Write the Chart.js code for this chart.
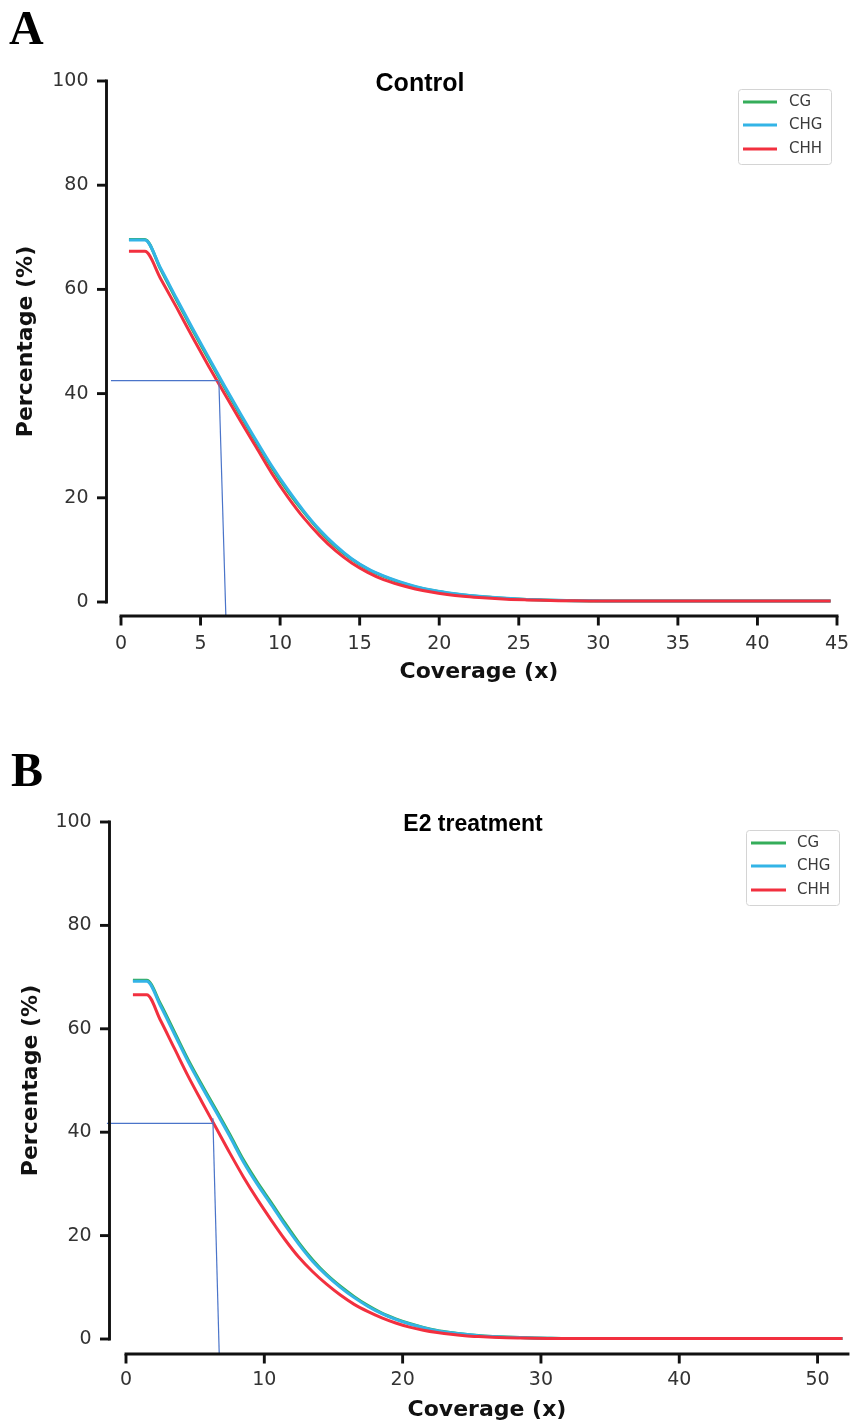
<!DOCTYPE html>
<html><head><meta charset="utf-8">
<script src="https://cdn.jsdelivr.net/npm/chart.js@4.4.1/dist/chart.umd.min.js"></script>
<style>
html,body{margin:0;padding:0;background:#fff;}
#wrap{position:relative;width:856px;height:1425px;overflow:hidden;}
canvas{position:absolute;left:0;}
#cA{top:0px;} #cB{top:712px;}
</style></head><body>
<div id="wrap"><canvas id="cA" width="856" height="712"></canvas><canvas id="cB" width="856" height="713"></canvas></div>
<script>
// ---------- DATA ----------
const seriesNames = ['CG', 'CHG', 'CHH'];
const panelTitles = ['Control', 'E2 treatment'];
const panelLetters = ['A', 'B'];
const yTicks = [0, 20, 40, 60, 80, 100];
const xTicksA = [0, 5, 10, 15, 20, 25, 30, 35, 40, 45];
const xTicksB = [0, 10, 20, 30, 40, 50];
const xSpineA = [0, 45];
const xSpineB = [0, 52.2];

// Panel A (Control)
const coverageA = [0.5,1.5,2.5,3.5,4.5,5.5,6.5,7.5,8.5,9.5,10.5,11.5,12.5,13.5,14.5,15.5,16.5,17.5,18.5,19.5,20.5,21.5,22.5,23.5,24.5,25.5,26.5,27.5,28.5,29.5,30.5,31.5,32.5,33.5,34.5,35.5,36.5,37.5,38.5,39.5,40.5,41.5,42.5,43.5,44.6];
const cgA  = [69.6,69.6,63.8,57.9,52.2,46.7,41.2,35.9,30.7,25.7,21.2,17.2,13.6,10.6,8.2,6.3,4.9,3.8,2.9,2.25,1.75,1.35,1.05,0.82,0.63,0.49,0.39,0.31,0.25,0.21,0.2,0.2,0.2,0.2,0.2,0.2,0.2,0.2,0.2,0.2,0.2,0.2,0.2,0.2,0.2];
const chgA = [69.5,69.5,64.0,58.2,52.5,47.0,41.5,36.2,31.0,26.0,21.5,17.4,13.8,10.8,8.3,6.4,5.0,3.9,3.0,2.3,1.8,1.4,1.1,0.85,0.65,0.5,0.4,0.32,0.26,0.22,0.2,0.2,0.2,0.2,0.2,0.2,0.2,0.2,0.2,0.2,0.2,0.2,0.2,0.2,0.2];
const chhA = [67.3,67.3,62.0,56.5,50.8,45.3,40.0,34.8,29.7,24.6,20.1,16.1,12.7,9.8,7.5,5.7,4.3,3.3,2.5,1.9,1.45,1.1,0.85,0.65,0.5,0.4,0.32,0.26,0.22,0.2,0.2,0.2,0.2,0.2,0.2,0.2,0.2,0.2,0.2,0.2,0.2,0.2,0.2,0.2,0.2];
// hand-drawn guide lines (panel A)
const guideA_hx = [-0.63, 6.12], guideA_hy = [42.5, 42.5];
const guideA_vx = [6.15, 6.59],  guideA_vy = [42.5, -2.7];

// Panel B (E2 treatment)
const coverageB = [0.5,1.5,2.5,3.5,4.5,5.5,6.5,7.5,8.5,9.5,10.5,11.5,12.5,13.5,14.5,15.5,16.5,17.5,18.5,19.5,20.5,21.5,22.5,23.5,24.5,25.5,26.5,27.5,28.5,29.5,30.5,31.5,32.5,33.5,34.5,35.5,36.5,37.5,38.5,39.5,40.5,41.5,42.5,43.5,44.5,45.5,46.5,47.5,48.5,49.5,50.5,51.8];
const cgB  = [69.4,69.4,64.8,59.4,54.0,49.1,44.4,39.6,34.6,30.3,26.4,22.4,18.6,15.3,12.5,10.2,8.2,6.45,5.0,3.9,3.0,2.25,1.65,1.25,0.92,0.67,0.5,0.37,0.28,0.21,0.16,0.12,0.12,0.12,0.12,0.12,0.12,0.12,0.12,0.12,0.12,0.12,0.12,0.12,0.12,0.12,0.12,0.12,0.12,0.12,0.12,0.12];
const chgB = [69.2,69.2,64.4,59.0,53.6,48.7,44.0,39.2,34.2,29.9,26.0,22.0,18.3,15.0,12.3,10.0,8.0,6.3,4.9,3.8,2.9,2.2,1.6,1.2,0.9,0.65,0.48,0.36,0.27,0.2,0.15,0.12,0.12,0.12,0.12,0.12,0.12,0.12,0.12,0.12,0.12,0.12,0.12,0.12,0.12,0.12,0.12,0.12,0.12,0.12,0.12,0.12];
const chhB = [66.6,66.6,61.6,56.2,50.8,45.8,40.9,36.0,31.3,27.0,23.0,19.2,15.8,13.0,10.6,8.5,6.7,5.3,4.1,3.1,2.3,1.7,1.25,0.9,0.65,0.48,0.35,0.26,0.2,0.15,0.12,0.1,0.1,0.1,0.1,0.1,0.1,0.1,0.1,0.1,0.1,0.1,0.1,0.1,0.1,0.1,0.1,0.1,0.1,0.1,0.1,0.1];
// hand-drawn guide lines (panel B)
const guideB_hx = [-1.38, 6.3],  guideB_hy = [41.7, 41.7];
const guideB_vx = [6.28, 6.74],  guideB_vy = [42.7, -2.9];

// ---------- STYLE ----------
const colors = ['#35ad5a', '#33b4e6', '#f2303f'];
const guideColor = '#4a74c9';
Chart.defaults.font.family = '"DejaVu Sans", sans-serif';
Chart.defaults.color = '#333';

const pts = (xs, ys) => xs.map((x, i) => ({x, y: ys[i]}));

const decor = {
  id: 'decor',
  afterDraw(chart, args, o) {
    const {ctx} = chart;
    const xs = chart.scales.x, ys = chart.scales.y;
    ctx.save();
    // offset spines (seaborn despine style)
    ctx.strokeStyle = '#111';
    ctx.lineWidth = 2.9;
    ctx.lineCap = 'square';
    const sx = chart.chartArea.left - o.ySpineOff;
    const ya = ys.getPixelForValue(o.yTicks[0]);
    const yb = ys.getPixelForValue(o.yTicks[o.yTicks.length - 1]);
    ctx.beginPath(); ctx.moveTo(sx, ya); ctx.lineTo(sx, yb); ctx.stroke();
    ctx.lineCap = 'butt';
    for (const v of o.yTicks) {
      const p = ys.getPixelForValue(v);
      ctx.beginPath(); ctx.moveTo(sx - 9.5, p); ctx.lineTo(sx, p); ctx.stroke();
    }
    const sy = chart.chartArea.bottom + o.xSpineOff;
    const xa = xs.getPixelForValue(o.xSpine[0]);
    const xb = xs.getPixelForValue(o.xSpine[1]);
    ctx.lineCap = 'square';
    ctx.beginPath(); ctx.moveTo(xa, sy); ctx.lineTo(xb, sy); ctx.stroke();
    ctx.lineCap = 'butt';
    for (const v of o.xTicks) {
      const p = xs.getPixelForValue(v);
      ctx.beginPath(); ctx.moveTo(p, sy); ctx.lineTo(p, sy + 9.5); ctx.stroke();
    }
    // panel title
    ctx.fillStyle = '#000';
    ctx.font = 'bold ' + o.titleSize + 'px "Liberation Sans", Arial, sans-serif';
    ctx.textAlign = 'center';
    ctx.textBaseline = 'middle';
    ctx.fillText(o.title, o.titleX, o.titleY);
    // panel letter
    ctx.font = 'bold 48px "Liberation Serif", "Times New Roman", serif';
    ctx.textAlign = 'left';
    ctx.textBaseline = 'alphabetic';
    ctx.fillText(o.letter, o.letterX, o.letterY);
    // legend
    const L = o.legend;
    ctx.beginPath();
    ctx.roundRect(L.x + 0.5, L.y + 0.5, L.w, L.h, 3);
    ctx.fillStyle = 'rgba(255,255,255,0.9)';
    ctx.fill();
    ctx.strokeStyle = '#d4d4d4';
    ctx.lineWidth = 1;
    ctx.stroke();
    ctx.font = '15px "DejaVu Sans", sans-serif';
    ctx.textBaseline = 'middle';
    ctx.textAlign = 'left';
    seriesNames.forEach((name, i) => {
      const yy = L.rows[i];
      ctx.strokeStyle = colors[i];
      ctx.lineWidth = 3;
      ctx.beginPath(); ctx.moveTo(L.lx0, yy); ctx.lineTo(L.lx1, yy); ctx.stroke();
      ctx.fillStyle = '#3a3a3a';
      ctx.fillText(name, L.tx, yy + 0.5);
    });
    ctx.restore();
  }
};

function makeChart(canvasId, p) {
  const series = [p.cg, p.chg, p.chh];
  const datasets = series.map((ys, i) => ({
    label: seriesNames[i],
    data: pts(p.cov, ys),
    borderColor: colors[i],
    backgroundColor: colors[i],
    borderWidth: 3,
    pointRadius: 0,
    cubicInterpolationMode: 'monotone',
    fill: false,
    clip: false,
    order: 2 - i
  }));
  datasets.push({label: 'guide-h', data: pts(p.ghx, p.ghy), borderColor: guideColor, borderWidth: 1.2, pointRadius: 0, tension: 0, clip: false, order: -1});
  datasets.push({label: 'guide-v', data: pts(p.gvx, p.gvy), borderColor: guideColor, borderWidth: 1.2, pointRadius: 0, tension: 0, clip: false, order: -1});

  return new Chart(document.getElementById(canvasId), {
    type: 'line',
    data: {datasets},
    plugins: [decor],
    options: {
      responsive: false,
      animation: false,
      events: [],
      layout: {padding: p.pad},
      plugins: {
        legend: {display: false},
        tooltip: {enabled: false},
        title: {display: false},
        decor: {
          yTicks, xTicks: p.xTicks, xSpine: p.xSpine,
          ySpineOff: p.ySpineOff, xSpineOff: p.xSpineOff,
          title: p.title, titleX: p.titleX, titleY: p.titleY, titleSize: p.titleSize,
          letter: p.letter, letterX: p.letterX, letterY: p.letterY,
          legend: p.legend
        }
      },
      scales: {
        x: {
          type: 'linear',
          min: 0, max: p.xMax,
          grid: {display: false, drawTicks: false},
          border: {display: false},
          ticks: {padding: p.xTickPad, font: {size: 19}, color: '#333', maxRotation: 0, autoSkip: false},
          afterBuildTicks: s => { s.ticks = p.xTicks.map(v => ({value: v})); },
          afterFit: s => { s.height = p.xHeight; s.paddingLeft = 0; s.paddingRight = 0; },
          title: {display: true, text: 'Coverage (x)', font: {size: 22, weight: 'bold'}, color: '#111', padding: {top: 0, bottom: p.xTitlePad}}
        },
        y: {
          type: 'linear',
          min: 0, max: 100,
          grid: {display: false, drawTicks: false},
          border: {display: false},
          ticks: {padding: p.yTickPad, font: {size: 19}, color: '#333'},
          afterBuildTicks: s => { s.ticks = yTicks.map(v => ({value: v})); },
          afterFit: s => { s.width = p.yWidth; s.paddingTop = 0; s.paddingBottom = 0; },
          title: {display: true, text: 'Percentage (%)', font: {size: 22, weight: 'bold'}, color: '#111', padding: {top: p.yTitlePad, bottom: 0}}
        }
      }
    }
  });
}

makeChart('cA', {
  cov: coverageA, cg: cgA, chg: chgA, chh: chhA,
  ghx: guideA_hx, ghy: guideA_hy, gvx: guideA_vx, gvy: guideA_vy,
  xTicks: xTicksA, xSpine: xSpineA, xMax: 45,
  pad: {top: 81, right: 19, left: 0, bottom: 0},
  yWidth: 121, xHeight: 110,
  yTickPad: 32.5, xTickPad: 30.2, yTitlePad: 13.0, xTitlePad: 27.0,
  ySpineOff: 14.5, xSpineOff: 14,
  title: panelTitles[0], titleX: 420, titleY: 84, titleSize: 25,
  letter: panelLetters[0], letterX: 9, letterY: 44,
  legend: {x: 738, y: 89, w: 93, h: 75, rows: [102, 125, 149], lx0: 743, lx1: 777, tx: 789}
});

makeChart('cB', {
  cov: coverageB, cg: cgB, chg: chgB, chh: chhB,
  ghx: guideB_hx, ghy: guideB_hy, gvx: guideB_vx, gvy: guideB_vy,
  xTicks: xTicksB, xSpine: xSpineB, xMax: 52.2,
  pad: {top: 110, right: 8, left: 0, bottom: 0},
  yWidth: 126, xHeight: 86,
  yTickPad: 34.3, xTickPad: 29.7, yTitlePad: 18.5, xTitlePad: 1.5,
  ySpineOff: 16.5, xSpineOff: 15,
  title: panelTitles[1], titleX: 473, titleY: 113, titleSize: 23,
  letter: panelLetters[1], letterX: 11, letterY: 74,
  legend: {x: 746, y: 118, w: 93, h: 75, rows: [131, 154, 178], lx0: 751, lx1: 786, tx: 797}
});
</script>
</body></html>
